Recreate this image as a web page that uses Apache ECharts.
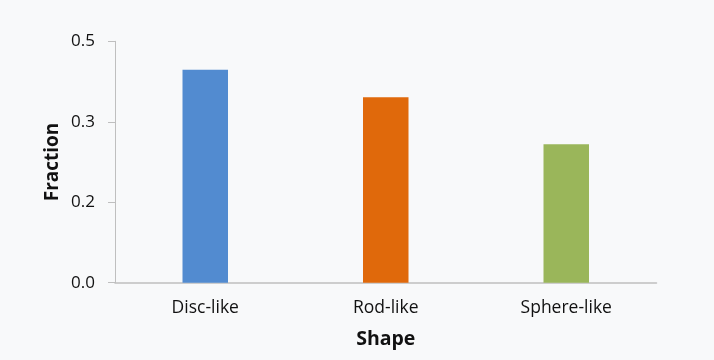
<!DOCTYPE html>
<html><head><meta charset="utf-8">
<script src="https://cdn.jsdelivr.net/npm/echarts@6/dist/echarts.min.js"></script>
<style>html,body{margin:0;padding:0;background:#f8f9fa}#c{width:714px;height:360px}</style>
</head><body><div id="c"></div>
<script>
const categories = ['Disc-like', 'Rod-like', 'Sphere-like'];
const values = [0.441, 0.384, 0.287];
const colors = ['#528bd0', '#e0690b', '#9ab65a'];
const yMin = 0, yMax = 0.5, yInterval = 0.5 / 3;

const chart = echarts.init(document.getElementById('c'));
chart.setOption({
  backgroundColor: '#f8f9fa',
  animation: false,
  grid: { left: 115, right: 57.5, top: 41.3, bottom: 77.3 },
  xAxis: {
    type: 'category', data: categories,
    name: 'Shape', nameLocation: 'middle', nameGap: 47, nameMoveOverlap: false,
    nameTextStyle: { fontFamily: 'Open Sans', fontWeight: 'bold', fontSize: 19.5, color: '#111' },
    axisLine: { lineStyle: { color: '#bfbfbf', width: 1.5 } },
    axisTick: { show: false },
    axisLabel: { fontFamily: 'Open Sans', fontSize: 17.5, color: '#111', margin: 16 }
  },
  yAxis: {
    type: 'value', min: yMin, max: yMax, interval: yInterval,
    name: 'Fraction', nameLocation: 'middle', nameGap: 53, nameMoveOverlap: false,
    nameTextStyle: { fontFamily: 'Open Sans', fontWeight: 'bold', fontSize: 19, color: '#111' },
    axisLine: { show: true, lineStyle: { color: '#bfbfbf' } },
    axisTick: { show: true, length: 7, lineStyle: { color: '#bfbfbf' } },
    splitLine: { show: false },
    axisLabel: { fontFamily: 'Open Sans', fontSize: 17, color: '#111', margin: 20,
      formatter: v => v.toFixed(1) }
  },
  series: [{
    type: 'bar', barWidth: 45.5,
    data: values.map((v, i) => ({ value: v, itemStyle: { color: colors[i] } }))
  }]
});
</script></body></html>
